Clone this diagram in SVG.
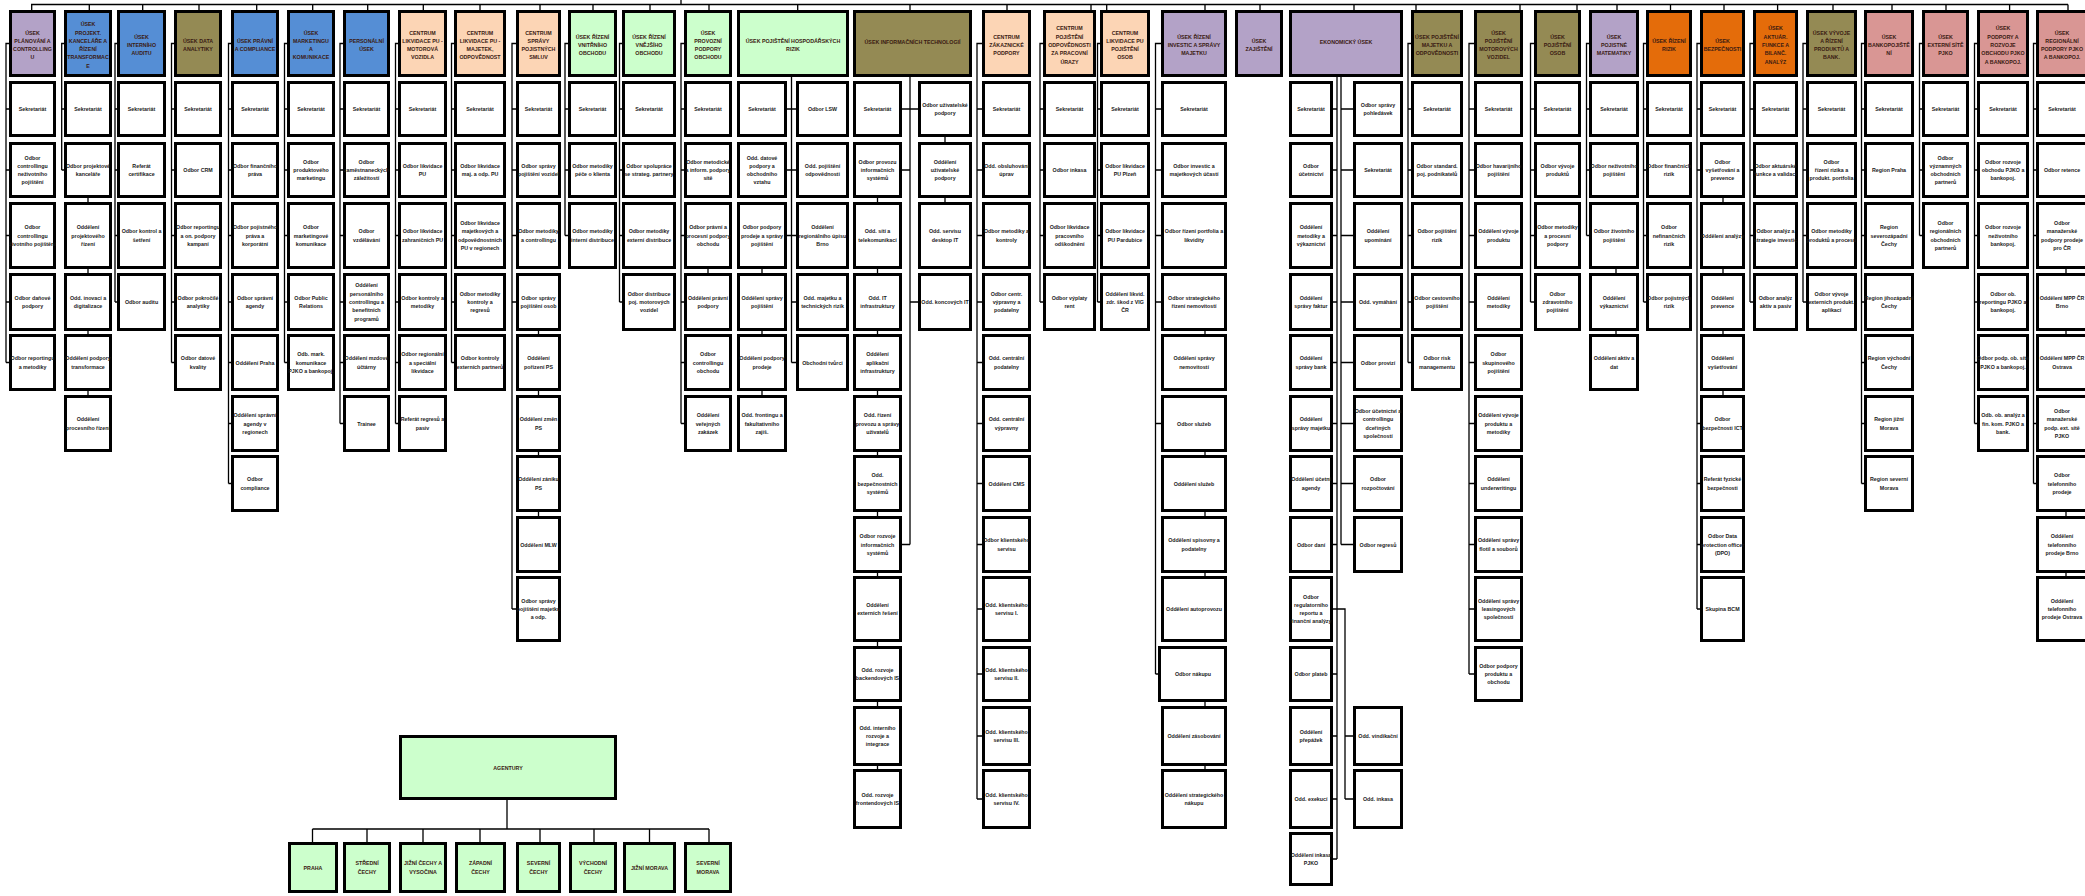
<svg xmlns="http://www.w3.org/2000/svg" width="2085" height="896" viewBox="0 0 2085 896">
<style>
rect{stroke:#000;stroke-width:3}
.w{fill:#fff}.pu{fill:#B3A2C7}.bl{fill:#558ED5}.ol{fill:#948A54}.pe{fill:#FCD5B5}.gr{fill:#CCFFCC}.or{fill:#E46C0A}.pk{fill:#D99694}
text,tspan{font-family:"Liberation Sans",Arial,sans-serif;font-weight:bold;font-size:5.3px;text-anchor:middle;dominant-baseline:central;fill:#1a1a1a}
.hd text,.hd tspan{fill:#3a1a12}
.c path{fill:none;stroke:#000;stroke-width:1.3}
</style>
<g class="c" id="connectors">
<path d="M31,4.5H2068M681,0V4.5"/>
<path d="M31.7,4.5V10M89.3,4.5V10M142.7,4.5V10M199,4.5V10M256.7,4.5V10M312.7,4.5V10M367.7,4.5V10M423.3,4.5V10M480,4.5V10M540,4.5V10M593,4.5V10M650,4.5V10M709,4.5V10M797.7,4.5V10M910,4.5V10M1007,4.5V10M1091,4.5V10M1106.7,4.5V10M1205,4.5V10M1260,4.5V10M1354,4.5V10M1416,4.5V10M1520,4.5V10M1577,4.5V10M1617,4.5V10M1670.5,4.5V10M1724,4.5V10M1777.6,4.5V10M1833,4.5V10M1892,4.5V10M1946,4.5V10M2009.6,4.5V10M2068,4.5V10"/>
<path d="M9,43.5H6V362.5M6,109H9M6,170H9M6,235.5H9M6,302H9M6,362.5H9"/>
<path d="M64,43.5H61.7V170M61.7,109H64M61.7,170H64M88,198V202M88,269V273M88,331V334M88,391V395"/>
<path d="M117,43.5H115V302M115,109H117M115,170H117M115,235.5H117M115,302H117"/>
<path d="M174,43.5H171.5V362.5M171.5,109H174M171.5,170H174M171.5,235.5H174M171.5,302H174M171.5,362.5H174"/>
<path d="M231,43.5H228.5V483.5M228.5,109H231M228.5,170H231M228.5,235.5H231M228.5,302H231M228.5,362.5H231M228.5,423.5H231M228.5,483.5H231"/>
<path d="M287,43.5H284.5V362.5M284.5,109H287M284.5,170H287M284.5,235.5H287M284.5,302H287M284.5,362.5H287"/>
<path d="M343,43.5H340V423.5M340,109H343M340,170H343M340,235.5H343M340,302H343M340,362.5H343M340,423.5H343"/>
<path d="M398,43.5H395.5V423.5M395.5,109H398M395.5,170H398M395.5,235.5H398M395.5,302H398M395.5,362.5H398M395.5,423.5H398"/>
<path d="M454,43.5H451.5V362.5M451.5,109H454M451.5,170H454M451.5,235.5H454M451.5,302H454M451.5,362.5H454"/>
<path d="M516,43.5H512V609M512,109H516M512,170H516M512,235.5H516M512,302H516M512,609H516M538.5,331V334M538.5,391V395M538.5,452V455M538.5,512V516"/>
<path d="M568,43.5H565V235.5M565,109H568M565,170H568M565,235.5H568"/>
<path d="M622,43.5H619.5V302M619.5,109H622M619.5,170H622M619.5,235.5H622M619.5,302H622"/>
<path d="M684,43.5H681V423.5M681,109H684M681,170H684M681,235.5H684M681,302H684M681,362.5H684M681,423.5H684M708,269V273"/>
<path d="M791.5,77V362.5M787,109H796M787,170H796M787,235.5H796M791.5,302H796M791.5,362.5H796M762,269V273M762,331V334M762,391V395"/>
<path d="M910,77V544.5M902,109H918M910,170H902M910,544.5H902M910,302H918M877.5,198V202M877.5,269V273M877.5,331V334M877.5,391V395M877.5,452V455M877.5,512V516M877.5,573V576M877.5,642V646M877.5,702V706M877.5,766V769M945,137V142M945,198V202"/>
<path d="M982,43.5H977V799M977,109H982M977,170H982M977,235.5H982M977,302H982M977,362.5H982M977,423.5H982M977,483.5H982M977,544.5H982M977,609H982M977,674H982M977,736H982M977,799H982"/>
<path d="M1043,43.5H1040V302M1040,109H1043M1040,170H1043M1040,235.5H1043M1040,302H1043"/>
<path d="M1100,43.5H1097.5V302M1097.5,109H1100M1097.5,170H1100M1097.5,235.5H1100M1097.5,302H1100"/>
<path d="M1161,43.5H1155.5V674M1155.5,109H1161M1155.5,170H1161M1155.5,235.5H1161M1155.5,302H1161M1155.5,423.5H1161M1155.5,674H1158M1205,331V334M1205,452V455M1205,512V516M1205,573V576M1205,702V706M1205,766V769"/>
<path d="M1337,77V859M1337,109H1333M1337,170H1333M1337,235.5H1333M1337,302H1333M1337,362.5H1333M1337,423.5H1333M1337,483.5H1333M1337,544.5H1333M1337,609H1333M1337,674H1333M1337,736H1333M1337,799H1333M1337,859H1333"/>
<path d="M1341,77V544.5M1341,109H1353M1341,170H1353M1341,235.5H1353M1341,302H1353M1341,362.5H1353M1341,423.5H1353M1341,483.5H1353M1341,544.5H1353M1337,609H1345V799M1345,736H1353M1345,799H1353"/>
<path d="M1411,43.5H1408V362.5M1408,109H1411M1408,170H1411M1408,235.5H1411M1408,302H1411M1408,362.5H1411"/>
<path d="M1474,43.5H1469V674M1469,109H1474M1469,170H1474M1469,235.5H1474M1469,302H1474M1469,362.5H1474M1469,423.5H1474M1469,483.5H1474M1469,544.5H1474M1469,609H1474M1469,674H1474"/>
<path d="M1534,43.5H1530.5V302M1530.5,109H1534M1530.5,170H1534M1530.5,235.5H1534M1530.5,302H1534"/>
<path d="M1589,43.5H1586.5V235.5M1586.5,109H1589M1586.5,170H1589M1586.5,235.5H1589M1616,269V273M1616,331V334"/>
<path d="M1646,43.5H1643.5V302M1643.5,109H1646M1643.5,170H1646M1643.5,235.5H1646M1643.5,302H1646"/>
<path d="M1700,43.5H1697V609M1697,109H1700M1697,170H1700M1697,423.5H1700M1697,483.5H1700M1697,544.5H1700M1697,609H1700M1723,198V202M1723,269V273M1723,331V334M1723,391V395"/>
<path d="M1753,43.5H1750V302M1750,109H1753M1750,170H1753M1750,235.5H1753M1750,302H1753"/>
<path d="M1806,43.5H1803V302M1803,109H1806M1803,170H1806M1803,235.5H1806M1803,302H1806"/>
<path d="M1864,43.5H1861.5V483.5M1861.5,109H1864M1861.5,170H1864M1861.5,235.5H1864M1861.5,302H1864M1861.5,362.5H1864M1861.5,423.5H1864M1861.5,483.5H1864"/>
<path d="M1922,43.5H1919.5V235.5M1919.5,109H1922M1919.5,170H1922M1919.5,235.5H1922"/>
<path d="M1977,43.5H1974.5V423.5M1974.5,109H1977M1974.5,170H1977M1974.5,235.5H1977M1974.5,302H1977M1974.5,362.5H1977M1974.5,423.5H1977"/>
<path d="M2036,43.5H2033.5V483.5M2033.5,109H2036M2033.5,170H2036M2033.5,235.5H2036M2033.5,423.5H2036M2033.5,483.5H2036M2066,269V273M2066,331V334M2066,512V516M2066,573V576"/>
<path d="M507,800V829M312.5,829H709M312.5,829V842M367,829V842M423,829V842M480,829V842M540,829V842M594,829V842M649.5,829V842M709,829V842"/>
</g>

<g class="hd">
<g id="h1"><rect class="pu" x="10.5" y="11.5" width="44" height="64"/><text x="32.5" y="45"><tspan x="32.5" dy="-12.45">ÚSEK</tspan><tspan x="32.5" dy="8.3">PLÁNOVÁNÍ A</tspan><tspan x="32.5" dy="8.3">CONTROLLING</tspan><tspan x="32.5" dy="8.3">U</tspan></text></g>
<g id="h2"><rect class="bl" x="65.5" y="11.5" width="45" height="64"/><text x="88" y="45"><tspan x="88" dy="-20.75">ÚSEK</tspan><tspan x="88" dy="8.3">PROJEKT.</tspan><tspan x="88" dy="8.3">KANCELÁŘE A</tspan><tspan x="88" dy="8.3">ŘÍZENÍ</tspan><tspan x="88" dy="8.3">TRANSFORMAC</tspan><tspan x="88" dy="8.3">E</tspan></text></g>
<g id="h3"><rect class="bl" x="118.5" y="11.5" width="46" height="64"/><text x="141.5" y="45"><tspan x="141.5" dy="-8.3">ÚSEK</tspan><tspan x="141.5" dy="8.3">INTERNÍHO</tspan><tspan x="141.5" dy="8.3">AUDITU</tspan></text></g>
<g id="h4"><rect class="ol" x="175.5" y="11.5" width="45" height="64"/><text x="198" y="45"><tspan x="198" dy="-4.15">ÚSEK DATA</tspan><tspan x="198" dy="8.3">ANALYTIKY</tspan></text></g>
<g id="h5"><rect class="bl" x="232.5" y="11.5" width="45" height="64"/><text x="255" y="45"><tspan x="255" dy="-4.15">ÚSEK PRÁVNÍ</tspan><tspan x="255" dy="8.3">A COMPLIANCE</tspan></text></g>
<g id="h6"><rect class="bl" x="288.5" y="11.5" width="45" height="64"/><text x="311" y="45"><tspan x="311" dy="-12.45">ÚSEK</tspan><tspan x="311" dy="8.3">MARKETINGU</tspan><tspan x="311" dy="8.3">A</tspan><tspan x="311" dy="8.3">KOMUNIKACE</tspan></text></g>
<g id="h7"><rect class="bl" x="344.5" y="11.5" width="44" height="64"/><text x="366.5" y="45"><tspan x="366.5" dy="-4.15">PERSONÁLNÍ</tspan><tspan x="366.5" dy="8.3">ÚSEK</tspan></text></g>
<g id="h8"><rect class="pe" x="399.5" y="11.5" width="46" height="64"/><text x="422.5" y="45"><tspan x="422.5" dy="-12.45">CENTRUM</tspan><tspan x="422.5" dy="8.3">LIKVIDACE PU -</tspan><tspan x="422.5" dy="8.3">MOTOROVÁ</tspan><tspan x="422.5" dy="8.3">VOZIDLA</tspan></text></g>
<g id="h9"><rect class="pe" x="455.5" y="11.5" width="49" height="64"/><text x="480" y="45"><tspan x="480" dy="-12.45">CENTRUM</tspan><tspan x="480" dy="8.3">LIKVIDACE PU -</tspan><tspan x="480" dy="8.3">MAJETEK,</tspan><tspan x="480" dy="8.3">ODPOVĚDNOST</tspan></text></g>
<g id="h10"><rect class="pe" x="517.5" y="11.5" width="42" height="64"/><text x="538.5" y="45"><tspan x="538.5" dy="-12.45">CENTRUM</tspan><tspan x="538.5" dy="8.3">SPRÁVY</tspan><tspan x="538.5" dy="8.3">POJISTNÝCH</tspan><tspan x="538.5" dy="8.3">SMLUV</tspan></text></g>
<g id="h11"><rect class="gr" x="569.5" y="11.5" width="46" height="64"/><text x="592.5" y="45"><tspan x="592.5" dy="-8.3">ÚSEK ŘÍZENÍ</tspan><tspan x="592.5" dy="8.3">VNITŘNÍHO</tspan><tspan x="592.5" dy="8.3">OBCHODU</tspan></text></g>
<g id="h12"><rect class="gr" x="623.5" y="11.5" width="51" height="64"/><text x="649" y="45"><tspan x="649" dy="-8.3">ÚSEK ŘÍZENÍ</tspan><tspan x="649" dy="8.3">VNĚJŠÍHO</tspan><tspan x="649" dy="8.3">OBCHODU</tspan></text></g>
<g id="h13"><rect class="gr" x="685.5" y="11.5" width="45" height="64"/><text x="708" y="45"><tspan x="708" dy="-12.45">ÚSEK</tspan><tspan x="708" dy="8.3">PROVOZNÍ</tspan><tspan x="708" dy="8.3">PODPORY</tspan><tspan x="708" dy="8.3">OBCHODU</tspan></text></g>
<g id="h14"><rect class="gr" x="738.5" y="11.5" width="109" height="64"/><text x="793" y="45"><tspan x="793" dy="-4.15">ÚSEK POJIŠTĚNÍ HOSPODÁŘSKÝCH</tspan><tspan x="793" dy="8.3">RIZIK</tspan></text></g>
<g id="h15"><rect class="ol" x="854.5" y="11.5" width="116" height="64"/><text x="912.5" y="42">ÚSEK INFORMAČNÍCH TECHNOLOGIÍ</text></g>
<g id="h16"><rect class="pe" x="983.5" y="11.5" width="46" height="64"/><text x="1006.5" y="45"><tspan x="1006.5" dy="-8.3">CENTRUM</tspan><tspan x="1006.5" dy="8.3">ZÁKAZNICKÉ</tspan><tspan x="1006.5" dy="8.3">PODPORY</tspan></text></g>
<g id="h17"><rect class="pe" x="1044.5" y="11.5" width="50" height="64"/><text x="1069.5" y="45"><tspan x="1069.5" dy="-16.6">CENTRUM</tspan><tspan x="1069.5" dy="8.3">POJIŠTĚNÍ</tspan><tspan x="1069.5" dy="8.3">ODPOVĚDNOSTI</tspan><tspan x="1069.5" dy="8.3">ZA PRACOVNÍ</tspan><tspan x="1069.5" dy="8.3">ÚRAZY</tspan></text></g>
<g id="h18"><rect class="pe" x="1101.5" y="11.5" width="47" height="64"/><text x="1125" y="45"><tspan x="1125" dy="-12.45">CENTRUM</tspan><tspan x="1125" dy="8.3">LIKVIDACE PU</tspan><tspan x="1125" dy="8.3">POJIŠTĚNÍ</tspan><tspan x="1125" dy="8.3">OSOB</tspan></text></g>
<g id="h19"><rect class="pu" x="1162.5" y="11.5" width="63" height="64"/><text x="1194" y="45"><tspan x="1194" dy="-8.3">ÚSEK ŘÍZENÍ</tspan><tspan x="1194" dy="8.3">INVESTIC A SPRÁVY</tspan><tspan x="1194" dy="8.3">MAJETKU</tspan></text></g>
<g id="h20"><rect class="pu" x="1236.5" y="11.5" width="45" height="64"/><text x="1259" y="45"><tspan x="1259" dy="-4.15">ÚSEK</tspan><tspan x="1259" dy="8.3">ZAJIŠTĚNÍ</tspan></text></g>
<g id="h21"><rect class="pu" x="1290.5" y="11.5" width="111" height="64"/><text x="1346" y="42">EKONOMICKÝ ÚSEK</text></g>
<g id="h22"><rect class="ol" x="1412.5" y="11.5" width="49" height="64"/><text x="1437" y="45"><tspan x="1437" dy="-8.3">ÚSEK POJIŠTĚNÍ</tspan><tspan x="1437" dy="8.3">MAJETKU A</tspan><tspan x="1437" dy="8.3">ODPOVĚDNOSTI</tspan></text></g>
<g id="h23"><rect class="ol" x="1475.5" y="11.5" width="46" height="64"/><text x="1498.5" y="45"><tspan x="1498.5" dy="-12.45">ÚSEK</tspan><tspan x="1498.5" dy="8.3">POJIŠTĚNÍ</tspan><tspan x="1498.5" dy="8.3">MOTOROVÝCH</tspan><tspan x="1498.5" dy="8.3">VOZIDEL</tspan></text></g>
<g id="h24"><rect class="ol" x="1535.5" y="11.5" width="44" height="64"/><text x="1557.5" y="45"><tspan x="1557.5" dy="-8.3">ÚSEK</tspan><tspan x="1557.5" dy="8.3">POJIŠTĚNÍ</tspan><tspan x="1557.5" dy="8.3">OSOB</tspan></text></g>
<g id="h25"><rect class="pu" x="1590.5" y="11.5" width="47" height="64"/><text x="1614" y="45"><tspan x="1614" dy="-8.3">ÚSEK</tspan><tspan x="1614" dy="8.3">POJISTNÉ</tspan><tspan x="1614" dy="8.3">MATEMATIKY</tspan></text></g>
<g id="h26"><rect class="or" x="1647.5" y="11.5" width="43" height="64"/><text x="1669" y="45"><tspan x="1669" dy="-4.15">ÚSEK ŘÍZENÍ</tspan><tspan x="1669" dy="8.3">RIZIK</tspan></text></g>
<g id="h27"><rect class="or" x="1701.5" y="11.5" width="42" height="64"/><text x="1722.5" y="45"><tspan x="1722.5" dy="-4.15">ÚSEK</tspan><tspan x="1722.5" dy="8.3">BEZPEČNOSTI</tspan></text></g>
<g id="h28"><rect class="or" x="1754.5" y="11.5" width="42" height="64"/><text x="1775.5" y="45"><tspan x="1775.5" dy="-16.6">ÚSEK</tspan><tspan x="1775.5" dy="8.3">AKTUÁR.</tspan><tspan x="1775.5" dy="8.3">FUNKCE A</tspan><tspan x="1775.5" dy="8.3">BILANČ.</tspan><tspan x="1775.5" dy="8.3">ANALÝZ</tspan></text></g>
<g id="h29"><rect class="ol" x="1807.5" y="11.5" width="48" height="64"/><text x="1831.5" y="45"><tspan x="1831.5" dy="-12.45">ÚSEK VÝVOJE</tspan><tspan x="1831.5" dy="8.3">A ŘÍZENÍ</tspan><tspan x="1831.5" dy="8.3">PRODUKTŮ A</tspan><tspan x="1831.5" dy="8.3">BANK.</tspan></text></g>
<g id="h30"><rect class="pk" x="1865.5" y="11.5" width="47" height="64"/><text x="1889" y="45"><tspan x="1889" dy="-8.3">ÚSEK</tspan><tspan x="1889" dy="8.3">BANKOPOJIŠTĚ</tspan><tspan x="1889" dy="8.3">NÍ</tspan></text></g>
<g id="h31"><rect class="pk" x="1923.5" y="11.5" width="44" height="64"/><text x="1945.5" y="45"><tspan x="1945.5" dy="-8.3">ÚSEK</tspan><tspan x="1945.5" dy="8.3">EXTERNÍ SÍTĚ</tspan><tspan x="1945.5" dy="8.3">PJKO</tspan></text></g>
<g id="h32"><rect class="pk" x="1978.5" y="11.5" width="49" height="64"/><text x="2003" y="45"><tspan x="2003" dy="-16.6">ÚSEK</tspan><tspan x="2003" dy="8.3">PODPORY A</tspan><tspan x="2003" dy="8.3">ROZVOJE</tspan><tspan x="2003" dy="8.3">OBCHODU PJKO</tspan><tspan x="2003" dy="8.3">A BANKOPOJ.</tspan></text></g>
<g id="h33"><rect class="pk" x="2037.5" y="11.5" width="60" height="64"/><text x="2062" y="45"><tspan x="2062" dy="-12.45">ÚSEK</tspan><tspan x="2062" dy="8.3">REGIONÁLNÍ</tspan><tspan x="2062" dy="8.3">PODPORY PJKO</tspan><tspan x="2062" dy="8.3">A BANKOPOJ.</tspan></text></g>
<g id="agentury"><rect class="gr" x="400.5" y="736.5" width="215" height="62"/><text x="508" y="767.5">AGENTURY</text></g>
<g id="a-praha"><rect class="gr" x="289.5" y="843.5" width="47" height="48"/><text x="313" y="867.5">PRAHA</text></g>
<g id="a-stredni"><rect class="gr" x="344.5" y="843.5" width="45" height="48"/><text x="367" y="867.5"><tspan x="367" dy="-4.15">STŘEDNÍ</tspan><tspan x="367" dy="8.3">ČECHY</tspan></text></g>
<g id="a-jizni-cechy"><rect class="gr" x="400.5" y="843.5" width="45" height="48"/><text x="423" y="867.5"><tspan x="423" dy="-4.15">JIŽNÍ ČECHY A</tspan><tspan x="423" dy="8.3">VYSOČINA</tspan></text></g>
<g id="a-zapadni"><rect class="gr" x="456.5" y="843.5" width="48" height="48"/><text x="480.5" y="867.5"><tspan x="480.5" dy="-4.15">ZÁPADNÍ</tspan><tspan x="480.5" dy="8.3">ČECHY</tspan></text></g>
<g id="a-severni-cechy"><rect class="gr" x="517.5" y="843.5" width="42" height="48"/><text x="538.5" y="867.5"><tspan x="538.5" dy="-4.15">SEVERNÍ</tspan><tspan x="538.5" dy="8.3">ČECHY</tspan></text></g>
<g id="a-vychodni"><rect class="gr" x="570.5" y="843.5" width="45" height="48"/><text x="593" y="867.5"><tspan x="593" dy="-4.15">VÝCHODNÍ</tspan><tspan x="593" dy="8.3">ČECHY</tspan></text></g>
<g id="a-jizni-morava"><rect class="gr" x="624.5" y="843.5" width="50" height="48"/><text x="649.5" y="867.5">JIŽNÍ MORAVA</text></g>
<g id="a-severni-morava"><rect class="gr" x="685.5" y="843.5" width="45" height="48"/><text x="708" y="867.5"><tspan x="708" dy="-4.15">SEVERNÍ</tspan><tspan x="708" dy="8.3">MORAVA</tspan></text></g>
</g>

<g id="c1-1"><rect class="w" x="10.5" y="82.5" width="44" height="53"/><text x="32.5" y="109">Sekretariát</text></g>
<g id="c1-2"><rect class="w" x="10.5" y="143.5" width="44" height="53"/><text x="32.5" y="170"><tspan x="32.5" dy="-12.45">Odbor</tspan><tspan x="32.5" dy="8.3">controllingu</tspan><tspan x="32.5" dy="8.3">neživotního</tspan><tspan x="32.5" dy="8.3">pojištění</tspan></text></g>
<g id="c1-3"><rect class="w" x="10.5" y="203.5" width="44" height="64"/><text x="32.5" y="235.5"><tspan x="32.5" dy="-8.3">Odbor</tspan><tspan x="32.5" dy="8.3">controllingu</tspan><tspan x="32.5" dy="8.3">životního pojištění</tspan></text></g>
<g id="c1-4"><rect class="w" x="10.5" y="274.5" width="44" height="55"/><text x="32.5" y="302"><tspan x="32.5" dy="-4.15">Odbor daňové</tspan><tspan x="32.5" dy="8.3">podpory</tspan></text></g>
<g id="c1-5"><rect class="w" x="10.5" y="335.5" width="44" height="54"/><text x="32.5" y="362.5"><tspan x="32.5" dy="-4.15">Odbor reportingu</tspan><tspan x="32.5" dy="8.3">a metodiky</tspan></text></g>

<g id="c2-1"><rect class="w" x="65.5" y="82.5" width="45" height="53"/><text x="88" y="109">Sekretariát</text></g>
<g id="c2-2"><rect class="w" x="65.5" y="143.5" width="45" height="53"/><text x="88" y="170"><tspan x="88" dy="-4.15">Odbor projektové</tspan><tspan x="88" dy="8.3">kanceláře</tspan></text></g>
<g id="c2-3"><rect class="w" x="65.5" y="203.5" width="45" height="64"/><text x="88" y="235.5"><tspan x="88" dy="-8.3">Oddělení</tspan><tspan x="88" dy="8.3">projektového</tspan><tspan x="88" dy="8.3">řízení</tspan></text></g>
<g id="c2-4"><rect class="w" x="65.5" y="274.5" width="45" height="55"/><text x="88" y="302"><tspan x="88" dy="-4.15">Odd. inovací a</tspan><tspan x="88" dy="8.3">digitalizace</tspan></text></g>
<g id="c2-5"><rect class="w" x="65.5" y="335.5" width="45" height="54"/><text x="88" y="362.5"><tspan x="88" dy="-4.15">Oddělení podpory</tspan><tspan x="88" dy="8.3">transformace</tspan></text></g>
<g id="c2-6"><rect class="w" x="65.5" y="396.5" width="45" height="54"/><text x="88" y="423.5"><tspan x="88" dy="-4.15">Oddělení</tspan><tspan x="88" dy="8.3">procesního řízení</tspan></text></g>

<g id="c3-1"><rect class="w" x="118.5" y="82.5" width="46" height="53"/><text x="141.5" y="109">Sekretariát</text></g>
<g id="c3-2"><rect class="w" x="118.5" y="143.5" width="46" height="53"/><text x="141.5" y="170"><tspan x="141.5" dy="-4.15">Referát</tspan><tspan x="141.5" dy="8.3">certifikace</tspan></text></g>
<g id="c3-3"><rect class="w" x="118.5" y="203.5" width="46" height="64"/><text x="141.5" y="235.5"><tspan x="141.5" dy="-4.15">Odbor kontrol a</tspan><tspan x="141.5" dy="8.3">šetření</tspan></text></g>
<g id="c3-4"><rect class="w" x="118.5" y="274.5" width="46" height="55"/><text x="141.5" y="302">Odbor auditu</text></g>

<g id="c4-1"><rect class="w" x="175.5" y="82.5" width="45" height="53"/><text x="198" y="109">Sekretariát</text></g>
<g id="c4-2"><rect class="w" x="175.5" y="143.5" width="45" height="53"/><text x="198" y="170">Odbor CRM</text></g>
<g id="c4-3"><rect class="w" x="175.5" y="203.5" width="45" height="64"/><text x="198" y="235.5"><tspan x="198" dy="-8.3">Odbor reportingu</tspan><tspan x="198" dy="8.3">a on. podpory</tspan><tspan x="198" dy="8.3">kampaní</tspan></text></g>
<g id="c4-4"><rect class="w" x="175.5" y="274.5" width="45" height="55"/><text x="198" y="302"><tspan x="198" dy="-4.15">Odbor pokročilé</tspan><tspan x="198" dy="8.3">analytiky</tspan></text></g>
<g id="c4-5"><rect class="w" x="175.5" y="335.5" width="45" height="54"/><text x="198" y="362.5"><tspan x="198" dy="-4.15">Odbor datové</tspan><tspan x="198" dy="8.3">kvality</tspan></text></g>

<g id="c5-1"><rect class="w" x="232.5" y="82.5" width="45" height="53"/><text x="255" y="109">Sekretariát</text></g>
<g id="c5-2"><rect class="w" x="232.5" y="143.5" width="45" height="53"/><text x="255" y="170"><tspan x="255" dy="-4.15">Odbor finančního</tspan><tspan x="255" dy="8.3">práva</tspan></text></g>
<g id="c5-3"><rect class="w" x="232.5" y="203.5" width="45" height="64"/><text x="255" y="235.5"><tspan x="255" dy="-8.3">Odbor pojistného</tspan><tspan x="255" dy="8.3">práva a</tspan><tspan x="255" dy="8.3">korporátní</tspan></text></g>
<g id="c5-4"><rect class="w" x="232.5" y="274.5" width="45" height="55"/><text x="255" y="302"><tspan x="255" dy="-4.15">Odbor správní</tspan><tspan x="255" dy="8.3">agendy</tspan></text></g>
<g id="c5-5"><rect class="w" x="232.5" y="335.5" width="45" height="54"/><text x="255" y="362.5">Oddělení Praha</text></g>
<g id="c5-6"><rect class="w" x="232.5" y="396.5" width="45" height="54"/><text x="255" y="423.5"><tspan x="255" dy="-8.3">Oddělení správní</tspan><tspan x="255" dy="8.3">agendy v</tspan><tspan x="255" dy="8.3">regionech</tspan></text></g>
<g id="c5-7"><rect class="w" x="232.5" y="456.5" width="45" height="54"/><text x="255" y="483.5"><tspan x="255" dy="-4.15">Odbor</tspan><tspan x="255" dy="8.3">compliance</tspan></text></g>

<g id="c6-1"><rect class="w" x="288.5" y="82.5" width="45" height="53"/><text x="311" y="109">Sekretariát</text></g>
<g id="c6-2"><rect class="w" x="288.5" y="143.5" width="45" height="53"/><text x="311" y="170"><tspan x="311" dy="-8.3">Odbor</tspan><tspan x="311" dy="8.3">produktového</tspan><tspan x="311" dy="8.3">marketingu</tspan></text></g>
<g id="c6-3"><rect class="w" x="288.5" y="203.5" width="45" height="64"/><text x="311" y="235.5"><tspan x="311" dy="-8.3">Odbor</tspan><tspan x="311" dy="8.3">marketingové</tspan><tspan x="311" dy="8.3">komunikace</tspan></text></g>
<g id="c6-4"><rect class="w" x="288.5" y="274.5" width="45" height="55"/><text x="311" y="302"><tspan x="311" dy="-4.15">Odbor Public</tspan><tspan x="311" dy="8.3">Relations</tspan></text></g>
<g id="c6-5"><rect class="w" x="288.5" y="335.5" width="45" height="54"/><text x="311" y="362.5"><tspan x="311" dy="-8.3">Odb. mark.</tspan><tspan x="311" dy="8.3">komunikace</tspan><tspan x="311" dy="8.3">PJKO a bankopoj.</tspan></text></g>

<g id="c7-1"><rect class="w" x="344.5" y="82.5" width="44" height="53"/><text x="366.5" y="109">Sekretariát</text></g>
<g id="c7-2"><rect class="w" x="344.5" y="143.5" width="44" height="53"/><text x="366.5" y="170"><tspan x="366.5" dy="-8.3">Odbor</tspan><tspan x="366.5" dy="8.3">zaměstnaneckých</tspan><tspan x="366.5" dy="8.3">záležitostí</tspan></text></g>
<g id="c7-3"><rect class="w" x="344.5" y="203.5" width="44" height="64"/><text x="366.5" y="235.5"><tspan x="366.5" dy="-4.15">Odbor</tspan><tspan x="366.5" dy="8.3">vzdělávání</tspan></text></g>
<g id="c7-4"><rect class="w" x="344.5" y="274.5" width="44" height="55"/><text x="366.5" y="302"><tspan x="366.5" dy="-16.6">Oddělení</tspan><tspan x="366.5" dy="8.3">personálního</tspan><tspan x="366.5" dy="8.3">controllingu a</tspan><tspan x="366.5" dy="8.3">benefitních</tspan><tspan x="366.5" dy="8.3">programů</tspan></text></g>
<g id="c7-5"><rect class="w" x="344.5" y="335.5" width="44" height="54"/><text x="366.5" y="362.5"><tspan x="366.5" dy="-4.15">Oddělení mzdové</tspan><tspan x="366.5" dy="8.3">účtárny</tspan></text></g>
<g id="c7-6"><rect class="w" x="344.5" y="396.5" width="44" height="54"/><text x="366.5" y="423.5">Trainee</text></g>

<g id="c8-1"><rect class="w" x="399.5" y="82.5" width="46" height="53"/><text x="422.5" y="109">Sekretariát</text></g>
<g id="c8-2"><rect class="w" x="399.5" y="143.5" width="46" height="53"/><text x="422.5" y="170"><tspan x="422.5" dy="-4.15">Odbor likvidace</tspan><tspan x="422.5" dy="8.3">PU</tspan></text></g>
<g id="c8-3"><rect class="w" x="399.5" y="203.5" width="46" height="64"/><text x="422.5" y="235.5"><tspan x="422.5" dy="-4.15">Odbor likvidace</tspan><tspan x="422.5" dy="8.3">zahraničních PU</tspan></text></g>
<g id="c8-4"><rect class="w" x="399.5" y="274.5" width="46" height="55"/><text x="422.5" y="302"><tspan x="422.5" dy="-4.15">Odbor kontroly a</tspan><tspan x="422.5" dy="8.3">metodiky</tspan></text></g>
<g id="c8-5"><rect class="w" x="399.5" y="335.5" width="46" height="54"/><text x="422.5" y="362.5"><tspan x="422.5" dy="-8.3">Odbor regionální</tspan><tspan x="422.5" dy="8.3">a speciální</tspan><tspan x="422.5" dy="8.3">likvidace</tspan></text></g>
<g id="c8-6"><rect class="w" x="399.5" y="396.5" width="46" height="54"/><text x="422.5" y="423.5"><tspan x="422.5" dy="-4.15">Referát regresů a</tspan><tspan x="422.5" dy="8.3">pasiv</tspan></text></g>

<g id="c9-1"><rect class="w" x="455.5" y="82.5" width="49" height="53"/><text x="480" y="109">Sekretariát</text></g>
<g id="c9-2"><rect class="w" x="455.5" y="143.5" width="49" height="53"/><text x="480" y="170"><tspan x="480" dy="-4.15">Odbor likvidace</tspan><tspan x="480" dy="8.3">maj. a odp. PU</tspan></text></g>
<g id="c9-3"><rect class="w" x="455.5" y="203.5" width="49" height="64"/><text x="480" y="235.5"><tspan x="480" dy="-12.45">Odbor likvidace</tspan><tspan x="480" dy="8.3">majetkových a</tspan><tspan x="480" dy="8.3">odpovědnostních</tspan><tspan x="480" dy="8.3">PU v regionech</tspan></text></g>
<g id="c9-4"><rect class="w" x="455.5" y="274.5" width="49" height="55"/><text x="480" y="302"><tspan x="480" dy="-8.3">Odbor metodiky</tspan><tspan x="480" dy="8.3">kontroly a</tspan><tspan x="480" dy="8.3">regresů</tspan></text></g>
<g id="c9-5"><rect class="w" x="455.5" y="335.5" width="49" height="54"/><text x="480" y="362.5"><tspan x="480" dy="-4.15">Odbor kontroly</tspan><tspan x="480" dy="8.3">externích partnerů</tspan></text></g>

<g id="c10-1"><rect class="w" x="517.5" y="82.5" width="42" height="53"/><text x="538.5" y="109">Sekretariát</text></g>
<g id="c10-2"><rect class="w" x="517.5" y="143.5" width="42" height="53"/><text x="538.5" y="170"><tspan x="538.5" dy="-4.15">Odbor správy</tspan><tspan x="538.5" dy="8.3">pojištění vozidel</tspan></text></g>
<g id="c10-3"><rect class="w" x="517.5" y="203.5" width="42" height="64"/><text x="538.5" y="235.5"><tspan x="538.5" dy="-4.15">Odbor metodiky</tspan><tspan x="538.5" dy="8.3">a controllingu</tspan></text></g>
<g id="c10-4"><rect class="w" x="517.5" y="274.5" width="42" height="55"/><text x="538.5" y="302"><tspan x="538.5" dy="-4.15">Odbor správy</tspan><tspan x="538.5" dy="8.3">pojištění osob</tspan></text></g>
<g id="c10-5"><rect class="w" x="517.5" y="335.5" width="42" height="54"/><text x="538.5" y="362.5"><tspan x="538.5" dy="-4.15">Oddělení</tspan><tspan x="538.5" dy="8.3">pořízení PS</tspan></text></g>
<g id="c10-6"><rect class="w" x="517.5" y="396.5" width="42" height="54"/><text x="538.5" y="423.5"><tspan x="538.5" dy="-4.15">Oddělení změn</tspan><tspan x="538.5" dy="8.3">PS</tspan></text></g>
<g id="c10-7"><rect class="w" x="517.5" y="456.5" width="42" height="54"/><text x="538.5" y="483.5"><tspan x="538.5" dy="-4.15">Oddělení zániku</tspan><tspan x="538.5" dy="8.3">PS</tspan></text></g>
<g id="c10-8"><rect class="w" x="517.5" y="517.5" width="42" height="54"/><text x="538.5" y="544.5">Oddělení MLW</text></g>
<g id="c10-9"><rect class="w" x="517.5" y="577.5" width="42" height="63"/><text x="538.5" y="609"><tspan x="538.5" dy="-8.3">Odbor správy</tspan><tspan x="538.5" dy="8.3">pojištění majetku</tspan><tspan x="538.5" dy="8.3">a odp.</tspan></text></g>

<g id="c11-1"><rect class="w" x="569.5" y="82.5" width="46" height="53"/><text x="592.5" y="109">Sekretariát</text></g>
<g id="c11-2"><rect class="w" x="569.5" y="143.5" width="46" height="53"/><text x="592.5" y="170"><tspan x="592.5" dy="-4.15">Odbor metodiky</tspan><tspan x="592.5" dy="8.3">péče o klienta</tspan></text></g>
<g id="c11-3"><rect class="w" x="569.5" y="203.5" width="46" height="64"/><text x="592.5" y="235.5"><tspan x="592.5" dy="-4.15">Odbor metodiky</tspan><tspan x="592.5" dy="8.3">interní distribuce</tspan></text></g>

<g id="c12-1"><rect class="w" x="623.5" y="82.5" width="51" height="53"/><text x="649" y="109">Sekretariát</text></g>
<g id="c12-2"><rect class="w" x="623.5" y="143.5" width="51" height="53"/><text x="649" y="170"><tspan x="649" dy="-4.15">Odbor spolupráce</tspan><tspan x="649" dy="8.3">se strateg. partnery</tspan></text></g>
<g id="c12-3"><rect class="w" x="623.5" y="203.5" width="51" height="64"/><text x="649" y="235.5"><tspan x="649" dy="-4.15">Odbor metodiky</tspan><tspan x="649" dy="8.3">externí distribuce</tspan></text></g>
<g id="c12-4"><rect class="w" x="623.5" y="274.5" width="51" height="55"/><text x="649" y="302"><tspan x="649" dy="-8.3">Odbor distribuce</tspan><tspan x="649" dy="8.3">poj. motorových</tspan><tspan x="649" dy="8.3">vozidel</tspan></text></g>

<g id="c13-1"><rect class="w" x="685.5" y="82.5" width="45" height="53"/><text x="708" y="109">Sekretariát</text></g>
<g id="c13-2"><rect class="w" x="685.5" y="143.5" width="45" height="53"/><text x="708" y="170"><tspan x="708" dy="-8.3">Odbor metodické</tspan><tspan x="708" dy="8.3">a inform. podpory</tspan><tspan x="708" dy="8.3">sítě</tspan></text></g>
<g id="c13-3"><rect class="w" x="685.5" y="203.5" width="45" height="64"/><text x="708" y="235.5"><tspan x="708" dy="-8.3">Odbor právní a</tspan><tspan x="708" dy="8.3">procesní podpory</tspan><tspan x="708" dy="8.3">obchodu</tspan></text></g>
<g id="c13-4"><rect class="w" x="685.5" y="274.5" width="45" height="55"/><text x="708" y="302"><tspan x="708" dy="-4.15">Oddělení právní</tspan><tspan x="708" dy="8.3">podpory</tspan></text></g>
<g id="c13-5"><rect class="w" x="685.5" y="335.5" width="45" height="54"/><text x="708" y="362.5"><tspan x="708" dy="-8.3">Odbor</tspan><tspan x="708" dy="8.3">controllingu</tspan><tspan x="708" dy="8.3">obchodu</tspan></text></g>
<g id="c13-6"><rect class="w" x="685.5" y="396.5" width="45" height="54"/><text x="708" y="423.5"><tspan x="708" dy="-8.3">Oddělení</tspan><tspan x="708" dy="8.3">veřejných</tspan><tspan x="708" dy="8.3">zakázek</tspan></text></g>

<g id="c14a-1"><rect class="w" x="738.5" y="82.5" width="47" height="53"/><text x="762" y="109">Sekretariát</text></g>
<g id="c14a-2"><rect class="w" x="738.5" y="143.5" width="47" height="53"/><text x="762" y="170"><tspan x="762" dy="-12.45">Odd. datové</tspan><tspan x="762" dy="8.3">podpory a</tspan><tspan x="762" dy="8.3">obchodního</tspan><tspan x="762" dy="8.3">vztahu</tspan></text></g>
<g id="c14a-3"><rect class="w" x="738.5" y="203.5" width="47" height="64"/><text x="762" y="235.5"><tspan x="762" dy="-8.3">Odbor podpory</tspan><tspan x="762" dy="8.3">prodeje a správy</tspan><tspan x="762" dy="8.3">pojištění</tspan></text></g>
<g id="c14a-4"><rect class="w" x="738.5" y="274.5" width="47" height="55"/><text x="762" y="302"><tspan x="762" dy="-4.15">Oddělení správy</tspan><tspan x="762" dy="8.3">pojištění</tspan></text></g>
<g id="c14a-5"><rect class="w" x="738.5" y="335.5" width="47" height="54"/><text x="762" y="362.5"><tspan x="762" dy="-4.15">Oddělení podpory</tspan><tspan x="762" dy="8.3">prodeje</tspan></text></g>
<g id="c14a-6"><rect class="w" x="738.5" y="396.5" width="47" height="54"/><text x="762" y="423.5"><tspan x="762" dy="-8.3">Odd. frontingu a</tspan><tspan x="762" dy="8.3">fakultativního</tspan><tspan x="762" dy="8.3">zajiš.</tspan></text></g>
<g id="c14b-1"><rect class="w" x="797.5" y="82.5" width="50" height="53"/><text x="822.5" y="109">Odbor LSW</text></g>
<g id="c14b-2"><rect class="w" x="797.5" y="143.5" width="50" height="53"/><text x="822.5" y="170"><tspan x="822.5" dy="-4.15">Odd. pojištění</tspan><tspan x="822.5" dy="8.3">odpovědnosti</tspan></text></g>
<g id="c14b-3"><rect class="w" x="797.5" y="203.5" width="50" height="64"/><text x="822.5" y="235.5"><tspan x="822.5" dy="-8.3">Oddělení</tspan><tspan x="822.5" dy="8.3">regionálního úpisu</tspan><tspan x="822.5" dy="8.3">Brno</tspan></text></g>
<g id="c14b-4"><rect class="w" x="797.5" y="274.5" width="50" height="55"/><text x="822.5" y="302"><tspan x="822.5" dy="-4.15">Odd. majetku a</tspan><tspan x="822.5" dy="8.3">technických rizik</tspan></text></g>
<g id="c14b-5"><rect class="w" x="797.5" y="335.5" width="50" height="54"/><text x="822.5" y="362.5">Obchodní tvůrci</text></g>

<g id="c15a-1"><rect class="w" x="854.5" y="82.5" width="46" height="53"/><text x="877.5" y="109">Sekretariát</text></g>
<g id="c15a-2"><rect class="w" x="854.5" y="143.5" width="46" height="53"/><text x="877.5" y="170"><tspan x="877.5" dy="-8.3">Odbor provozu</tspan><tspan x="877.5" dy="8.3">informačních</tspan><tspan x="877.5" dy="8.3">systémů</tspan></text></g>
<g id="c15a-3"><rect class="w" x="854.5" y="203.5" width="46" height="64"/><text x="877.5" y="235.5"><tspan x="877.5" dy="-4.15">Odd. sítí a</tspan><tspan x="877.5" dy="8.3">telekomunikací</tspan></text></g>
<g id="c15a-4"><rect class="w" x="854.5" y="274.5" width="46" height="55"/><text x="877.5" y="302"><tspan x="877.5" dy="-4.15">Odd. IT</tspan><tspan x="877.5" dy="8.3">infrastruktury</tspan></text></g>
<g id="c15a-5"><rect class="w" x="854.5" y="335.5" width="46" height="54"/><text x="877.5" y="362.5"><tspan x="877.5" dy="-8.3">Oddělení</tspan><tspan x="877.5" dy="8.3">aplikační</tspan><tspan x="877.5" dy="8.3">infrastruktury</tspan></text></g>
<g id="c15a-6"><rect class="w" x="854.5" y="396.5" width="46" height="54"/><text x="877.5" y="423.5"><tspan x="877.5" dy="-8.3">Odd. řízení</tspan><tspan x="877.5" dy="8.3">provozu a správy</tspan><tspan x="877.5" dy="8.3">uživatelů</tspan></text></g>
<g id="c15a-7"><rect class="w" x="854.5" y="456.5" width="46" height="54"/><text x="877.5" y="483.5"><tspan x="877.5" dy="-8.3">Odd.</tspan><tspan x="877.5" dy="8.3">bezpečnostních</tspan><tspan x="877.5" dy="8.3">systémů</tspan></text></g>
<g id="c15a-8"><rect class="w" x="854.5" y="517.5" width="46" height="54"/><text x="877.5" y="544.5"><tspan x="877.5" dy="-8.3">Odbor rozvoje</tspan><tspan x="877.5" dy="8.3">informačních</tspan><tspan x="877.5" dy="8.3">systémů</tspan></text></g>
<g id="c15a-9"><rect class="w" x="854.5" y="577.5" width="46" height="63"/><text x="877.5" y="609"><tspan x="877.5" dy="-4.15">Oddělení</tspan><tspan x="877.5" dy="8.3">externích řešení</tspan></text></g>
<g id="c15a-10"><rect class="w" x="854.5" y="647.5" width="46" height="53"/><text x="877.5" y="674"><tspan x="877.5" dy="-4.15">Odd. rozvoje</tspan><tspan x="877.5" dy="8.3">backendových IS</tspan></text></g>
<g id="c15a-11"><rect class="w" x="854.5" y="707.5" width="46" height="57"/><text x="877.5" y="736"><tspan x="877.5" dy="-8.3">Odd. interního</tspan><tspan x="877.5" dy="8.3">rozvoje a</tspan><tspan x="877.5" dy="8.3">integrace</tspan></text></g>
<g id="c15a-12"><rect class="w" x="854.5" y="770.5" width="46" height="57"/><text x="877.5" y="799"><tspan x="877.5" dy="-4.15">Odd. rozvoje</tspan><tspan x="877.5" dy="8.3">frontendových IS</tspan></text></g>
<g id="c15b-1"><rect class="w" x="919.5" y="82.5" width="51" height="53"/><text x="945" y="109"><tspan x="945" dy="-4.15">Odbor uživatelské</tspan><tspan x="945" dy="8.3">podpory</tspan></text></g>
<g id="c15b-2"><rect class="w" x="919.5" y="143.5" width="51" height="53"/><text x="945" y="170"><tspan x="945" dy="-8.3">Oddělení</tspan><tspan x="945" dy="8.3">uživatelské</tspan><tspan x="945" dy="8.3">podpory</tspan></text></g>
<g id="c15b-3"><rect class="w" x="919.5" y="203.5" width="51" height="64"/><text x="945" y="235.5"><tspan x="945" dy="-4.15">Odd. servisu</tspan><tspan x="945" dy="8.3">desktop IT</tspan></text></g>
<g id="c15b-4"><rect class="w" x="919.5" y="274.5" width="51" height="55"/><text x="945" y="302">Odd. koncových IT</text></g>

<g id="c16-1"><rect class="w" x="983.5" y="82.5" width="46" height="53"/><text x="1006.5" y="109">Sekretariát</text></g>
<g id="c16-2"><rect class="w" x="983.5" y="143.5" width="46" height="53"/><text x="1006.5" y="170"><tspan x="1006.5" dy="-4.15">Odd. obsluhování</tspan><tspan x="1006.5" dy="8.3">úprav</tspan></text></g>
<g id="c16-3"><rect class="w" x="983.5" y="203.5" width="46" height="64"/><text x="1006.5" y="235.5"><tspan x="1006.5" dy="-4.15">Odbor metodiky a</tspan><tspan x="1006.5" dy="8.3">kontroly</tspan></text></g>
<g id="c16-4"><rect class="w" x="983.5" y="274.5" width="46" height="55"/><text x="1006.5" y="302"><tspan x="1006.5" dy="-8.3">Odbor centr.</tspan><tspan x="1006.5" dy="8.3">výpravny a</tspan><tspan x="1006.5" dy="8.3">podatelny</tspan></text></g>
<g id="c16-5"><rect class="w" x="983.5" y="335.5" width="46" height="54"/><text x="1006.5" y="362.5"><tspan x="1006.5" dy="-4.15">Odd. centrální</tspan><tspan x="1006.5" dy="8.3">podatelny</tspan></text></g>
<g id="c16-6"><rect class="w" x="983.5" y="396.5" width="46" height="54"/><text x="1006.5" y="423.5"><tspan x="1006.5" dy="-4.15">Odd. centrální</tspan><tspan x="1006.5" dy="8.3">výpravny</tspan></text></g>
<g id="c16-7"><rect class="w" x="983.5" y="456.5" width="46" height="54"/><text x="1006.5" y="483.5">Oddělení CMS</text></g>
<g id="c16-8"><rect class="w" x="983.5" y="517.5" width="46" height="54"/><text x="1006.5" y="544.5"><tspan x="1006.5" dy="-4.15">Odbor klientského</tspan><tspan x="1006.5" dy="8.3">servisu</tspan></text></g>
<g id="c16-9"><rect class="w" x="983.5" y="577.5" width="46" height="63"/><text x="1006.5" y="609"><tspan x="1006.5" dy="-4.15">Odd. klientského</tspan><tspan x="1006.5" dy="8.3">servisu I.</tspan></text></g>
<g id="c16-10"><rect class="w" x="983.5" y="647.5" width="46" height="53"/><text x="1006.5" y="674"><tspan x="1006.5" dy="-4.15">Odd. klientského</tspan><tspan x="1006.5" dy="8.3">servisu II.</tspan></text></g>
<g id="c16-11"><rect class="w" x="983.5" y="707.5" width="46" height="57"/><text x="1006.5" y="736"><tspan x="1006.5" dy="-4.15">Odd. klientského</tspan><tspan x="1006.5" dy="8.3">servisu III.</tspan></text></g>
<g id="c16-12"><rect class="w" x="983.5" y="770.5" width="46" height="57"/><text x="1006.5" y="799"><tspan x="1006.5" dy="-4.15">Odd. klientského</tspan><tspan x="1006.5" dy="8.3">servisu IV.</tspan></text></g>

<g id="c17-1"><rect class="w" x="1044.5" y="82.5" width="50" height="53"/><text x="1069.5" y="109">Sekretariát</text></g>
<g id="c17-2"><rect class="w" x="1044.5" y="143.5" width="50" height="53"/><text x="1069.5" y="170">Odbor inkasa</text></g>
<g id="c17-3"><rect class="w" x="1044.5" y="203.5" width="50" height="64"/><text x="1069.5" y="235.5"><tspan x="1069.5" dy="-8.3">Odbor likvidace</tspan><tspan x="1069.5" dy="8.3">pracovního</tspan><tspan x="1069.5" dy="8.3">odškodnění</tspan></text></g>
<g id="c17-4"><rect class="w" x="1044.5" y="274.5" width="50" height="55"/><text x="1069.5" y="302"><tspan x="1069.5" dy="-4.15">Odbor výplaty</tspan><tspan x="1069.5" dy="8.3">rent</tspan></text></g>

<g id="c18-1"><rect class="w" x="1101.5" y="82.5" width="47" height="53"/><text x="1125" y="109">Sekretariát</text></g>
<g id="c18-2"><rect class="w" x="1101.5" y="143.5" width="47" height="53"/><text x="1125" y="170"><tspan x="1125" dy="-4.15">Odbor likvidace</tspan><tspan x="1125" dy="8.3">PU Plzeň</tspan></text></g>
<g id="c18-3"><rect class="w" x="1101.5" y="203.5" width="47" height="64"/><text x="1125" y="235.5"><tspan x="1125" dy="-4.15">Odbor likvidace</tspan><tspan x="1125" dy="8.3">PU Pardubice</tspan></text></g>
<g id="c18-4"><rect class="w" x="1101.5" y="274.5" width="47" height="55"/><text x="1125" y="302"><tspan x="1125" dy="-8.3">Oddělení likvid.</tspan><tspan x="1125" dy="8.3">zdr. škod z VIG</tspan><tspan x="1125" dy="8.3">ČR</tspan></text></g>

<g id="c19-1"><rect class="w" x="1162.5" y="82.5" width="63" height="53"/><text x="1194" y="109">Sekretariát</text></g>
<g id="c19-2"><rect class="w" x="1162.5" y="143.5" width="63" height="53"/><text x="1194" y="170"><tspan x="1194" dy="-4.15">Odbor investic a</tspan><tspan x="1194" dy="8.3">majetkových účastí</tspan></text></g>
<g id="c19-3"><rect class="w" x="1162.5" y="203.5" width="63" height="64"/><text x="1194" y="235.5"><tspan x="1194" dy="-4.15">Odbor řízení portfolia a</tspan><tspan x="1194" dy="8.3">likvidity</tspan></text></g>
<g id="c19-4"><rect class="w" x="1162.5" y="274.5" width="63" height="55"/><text x="1194" y="302"><tspan x="1194" dy="-4.15">Odbor strategického</tspan><tspan x="1194" dy="8.3">řízení nemovitostí</tspan></text></g>
<g id="c19-5"><rect class="w" x="1162.5" y="335.5" width="63" height="54"/><text x="1194" y="362.5"><tspan x="1194" dy="-4.15">Oddělení správy</tspan><tspan x="1194" dy="8.3">nemovitostí</tspan></text></g>
<g id="c19-6"><rect class="w" x="1162.5" y="396.5" width="63" height="54"/><text x="1194" y="423.5">Odbor služeb</text></g>
<g id="c19-7"><rect class="w" x="1162.5" y="456.5" width="63" height="54"/><text x="1194" y="483.5">Oddělení služeb</text></g>
<g id="c19-8"><rect class="w" x="1162.5" y="517.5" width="63" height="54"/><text x="1194" y="544.5"><tspan x="1194" dy="-4.15">Oddělení spisovny a</tspan><tspan x="1194" dy="8.3">podatelny</tspan></text></g>
<g id="c19-9"><rect class="w" x="1162.5" y="577.5" width="63" height="63"/><text x="1194" y="609">Oddělení autoprovozu</text></g>
<g id="c19-10"><rect class="w" x="1159.5" y="647.5" width="66" height="53"/><text x="1193" y="674">Odbor nákupu</text></g>
<g id="c19-11"><rect class="w" x="1162.5" y="707.5" width="63" height="57"/><text x="1194" y="736">Oddělení zásobování</text></g>
<g id="c19-12"><rect class="w" x="1162.5" y="770.5" width="63" height="57"/><text x="1194" y="799"><tspan x="1194" dy="-4.15">Oddělení strategického</tspan><tspan x="1194" dy="8.3">nákupu</tspan></text></g>

<g id="c21a-1"><rect class="w" x="1290.5" y="82.5" width="41" height="53"/><text x="1311" y="109">Sekretariát</text></g>
<g id="c21a-2"><rect class="w" x="1290.5" y="143.5" width="41" height="53"/><text x="1311" y="170"><tspan x="1311" dy="-4.15">Odbor</tspan><tspan x="1311" dy="8.3">účetnictví</tspan></text></g>
<g id="c21a-3"><rect class="w" x="1290.5" y="203.5" width="41" height="64"/><text x="1311" y="235.5"><tspan x="1311" dy="-8.3">Oddělení</tspan><tspan x="1311" dy="8.3">metodiky a</tspan><tspan x="1311" dy="8.3">výkaznictví</tspan></text></g>
<g id="c21a-4"><rect class="w" x="1290.5" y="274.5" width="41" height="55"/><text x="1311" y="302"><tspan x="1311" dy="-4.15">Oddělení</tspan><tspan x="1311" dy="8.3">správy faktur</tspan></text></g>
<g id="c21a-5"><rect class="w" x="1290.5" y="335.5" width="41" height="54"/><text x="1311" y="362.5"><tspan x="1311" dy="-4.15">Oddělení</tspan><tspan x="1311" dy="8.3">správy bank</tspan></text></g>
<g id="c21a-6"><rect class="w" x="1290.5" y="396.5" width="41" height="54"/><text x="1311" y="423.5"><tspan x="1311" dy="-4.15">Oddělení</tspan><tspan x="1311" dy="8.3">správy majetku</tspan></text></g>
<g id="c21a-7"><rect class="w" x="1290.5" y="456.5" width="41" height="54"/><text x="1311" y="483.5"><tspan x="1311" dy="-4.15">Oddělení účetní</tspan><tspan x="1311" dy="8.3">agendy</tspan></text></g>
<g id="c21a-8"><rect class="w" x="1290.5" y="517.5" width="41" height="54"/><text x="1311" y="544.5">Odbor daní</text></g>
<g id="c21a-9"><rect class="w" x="1290.5" y="577.5" width="41" height="63"/><text x="1311" y="609"><tspan x="1311" dy="-12.45">Odbor</tspan><tspan x="1311" dy="8.3">regulatorního</tspan><tspan x="1311" dy="8.3">reportu a</tspan><tspan x="1311" dy="8.3">finanční analýzy</tspan></text></g>
<g id="c21a-10"><rect class="w" x="1290.5" y="647.5" width="41" height="53"/><text x="1311" y="674">Odbor plateb</text></g>
<g id="c21a-11"><rect class="w" x="1290.5" y="707.5" width="41" height="57"/><text x="1311" y="736"><tspan x="1311" dy="-4.15">Oddělení</tspan><tspan x="1311" dy="8.3">přepážek</tspan></text></g>
<g id="c21a-12"><rect class="w" x="1290.5" y="770.5" width="41" height="57"/><text x="1311" y="799">Odd. exekucí</text></g>
<g id="c21a-13"><rect class="w" x="1290.5" y="833.5" width="41" height="51"/><text x="1311" y="859"><tspan x="1311" dy="-4.15">Oddělení inkasa</tspan><tspan x="1311" dy="8.3">PJKO</tspan></text></g>
<g id="c21b-1"><rect class="w" x="1354.5" y="82.5" width="47" height="53"/><text x="1378" y="109"><tspan x="1378" dy="-4.15">Odbor správy</tspan><tspan x="1378" dy="8.3">pohledávek</tspan></text></g>
<g id="c21b-2"><rect class="w" x="1354.5" y="143.5" width="47" height="53"/><text x="1378" y="170">Sekretariát</text></g>
<g id="c21b-3"><rect class="w" x="1354.5" y="203.5" width="47" height="64"/><text x="1378" y="235.5"><tspan x="1378" dy="-4.15">Oddělení</tspan><tspan x="1378" dy="8.3">upomínání</tspan></text></g>
<g id="c21b-4"><rect class="w" x="1354.5" y="274.5" width="47" height="55"/><text x="1378" y="302">Odd. vymáhání</text></g>
<g id="c21b-5"><rect class="w" x="1354.5" y="335.5" width="47" height="54"/><text x="1378" y="362.5">Odbor provizí</text></g>
<g id="c21b-6"><rect class="w" x="1354.5" y="396.5" width="47" height="54"/><text x="1378" y="423.5"><tspan x="1378" dy="-12.45">Odbor účetnictví a</tspan><tspan x="1378" dy="8.3">controllingu</tspan><tspan x="1378" dy="8.3">dceřiných</tspan><tspan x="1378" dy="8.3">společností</tspan></text></g>
<g id="c21b-7"><rect class="w" x="1354.5" y="456.5" width="47" height="54"/><text x="1378" y="483.5"><tspan x="1378" dy="-4.15">Odbor</tspan><tspan x="1378" dy="8.3">rozpočtování</tspan></text></g>
<g id="c21b-8"><rect class="w" x="1354.5" y="517.5" width="47" height="54"/><text x="1378" y="544.5">Odbor regresů</text></g>
<g id="c21b-11"><rect class="w" x="1354.5" y="707.5" width="47" height="57"/><text x="1378" y="736">Odd. vindikační</text></g>
<g id="c21b-12"><rect class="w" x="1354.5" y="770.5" width="47" height="57"/><text x="1378" y="799">Odd. inkasa</text></g>

<g id="c22-1"><rect class="w" x="1412.5" y="82.5" width="49" height="53"/><text x="1437" y="109">Sekretariát</text></g>
<g id="c22-2"><rect class="w" x="1412.5" y="143.5" width="49" height="53"/><text x="1437" y="170"><tspan x="1437" dy="-4.15">Odbor standard.</tspan><tspan x="1437" dy="8.3">poj. podnikatelů</tspan></text></g>
<g id="c22-3"><rect class="w" x="1412.5" y="203.5" width="49" height="64"/><text x="1437" y="235.5"><tspan x="1437" dy="-4.15">Odbor pojištění</tspan><tspan x="1437" dy="8.3">rizik</tspan></text></g>
<g id="c22-4"><rect class="w" x="1412.5" y="274.5" width="49" height="55"/><text x="1437" y="302"><tspan x="1437" dy="-4.15">Odbor cestovního</tspan><tspan x="1437" dy="8.3">pojištění</tspan></text></g>
<g id="c22-5"><rect class="w" x="1412.5" y="335.5" width="49" height="54"/><text x="1437" y="362.5"><tspan x="1437" dy="-4.15">Odbor risk</tspan><tspan x="1437" dy="8.3">managementu</tspan></text></g>

<g id="c23-1"><rect class="w" x="1475.5" y="82.5" width="46" height="53"/><text x="1498.5" y="109">Sekretariát</text></g>
<g id="c23-2"><rect class="w" x="1475.5" y="143.5" width="46" height="53"/><text x="1498.5" y="170"><tspan x="1498.5" dy="-4.15">Odbor havarijního</tspan><tspan x="1498.5" dy="8.3">pojištění</tspan></text></g>
<g id="c23-3"><rect class="w" x="1475.5" y="203.5" width="46" height="64"/><text x="1498.5" y="235.5"><tspan x="1498.5" dy="-4.15">Oddělení vývoje</tspan><tspan x="1498.5" dy="8.3">produktu</tspan></text></g>
<g id="c23-4"><rect class="w" x="1475.5" y="274.5" width="46" height="55"/><text x="1498.5" y="302"><tspan x="1498.5" dy="-4.15">Oddělení</tspan><tspan x="1498.5" dy="8.3">metodiky</tspan></text></g>
<g id="c23-5"><rect class="w" x="1475.5" y="335.5" width="46" height="54"/><text x="1498.5" y="362.5"><tspan x="1498.5" dy="-8.3">Odbor</tspan><tspan x="1498.5" dy="8.3">skupinového</tspan><tspan x="1498.5" dy="8.3">pojištění</tspan></text></g>
<g id="c23-6"><rect class="w" x="1475.5" y="396.5" width="46" height="54"/><text x="1498.5" y="423.5"><tspan x="1498.5" dy="-8.3">Oddělení vývoje</tspan><tspan x="1498.5" dy="8.3">produktu a</tspan><tspan x="1498.5" dy="8.3">metodiky</tspan></text></g>
<g id="c23-7"><rect class="w" x="1475.5" y="456.5" width="46" height="54"/><text x="1498.5" y="483.5"><tspan x="1498.5" dy="-4.15">Oddělení</tspan><tspan x="1498.5" dy="8.3">underwritingu</tspan></text></g>
<g id="c23-8"><rect class="w" x="1475.5" y="517.5" width="46" height="54"/><text x="1498.5" y="544.5"><tspan x="1498.5" dy="-4.15">Oddělení správy</tspan><tspan x="1498.5" dy="8.3">flotil a souborů</tspan></text></g>
<g id="c23-9"><rect class="w" x="1475.5" y="577.5" width="46" height="63"/><text x="1498.5" y="609"><tspan x="1498.5" dy="-8.3">Oddělení správy</tspan><tspan x="1498.5" dy="8.3">leasingových</tspan><tspan x="1498.5" dy="8.3">společností</tspan></text></g>
<g id="c23-10"><rect class="w" x="1475.5" y="647.5" width="46" height="53"/><text x="1498.5" y="674"><tspan x="1498.5" dy="-8.3">Odbor podpory</tspan><tspan x="1498.5" dy="8.3">produktu a</tspan><tspan x="1498.5" dy="8.3">obchodu</tspan></text></g>

<g id="c24-1"><rect class="w" x="1535.5" y="82.5" width="44" height="53"/><text x="1557.5" y="109">Sekretariát</text></g>
<g id="c24-2"><rect class="w" x="1535.5" y="143.5" width="44" height="53"/><text x="1557.5" y="170"><tspan x="1557.5" dy="-4.15">Odbor vývoje</tspan><tspan x="1557.5" dy="8.3">produktů</tspan></text></g>
<g id="c24-3"><rect class="w" x="1535.5" y="203.5" width="44" height="64"/><text x="1557.5" y="235.5"><tspan x="1557.5" dy="-8.3">Odbor metodiky</tspan><tspan x="1557.5" dy="8.3">a procesní</tspan><tspan x="1557.5" dy="8.3">podpory</tspan></text></g>
<g id="c24-4"><rect class="w" x="1535.5" y="274.5" width="44" height="55"/><text x="1557.5" y="302"><tspan x="1557.5" dy="-8.3">Odbor</tspan><tspan x="1557.5" dy="8.3">zdravotního</tspan><tspan x="1557.5" dy="8.3">pojištění</tspan></text></g>

<g id="c25-1"><rect class="w" x="1590.5" y="82.5" width="47" height="53"/><text x="1614" y="109">Sekretariát</text></g>
<g id="c25-2"><rect class="w" x="1590.5" y="143.5" width="47" height="53"/><text x="1614" y="170"><tspan x="1614" dy="-4.15">Odbor neživotního</tspan><tspan x="1614" dy="8.3">pojištění</tspan></text></g>
<g id="c25-3"><rect class="w" x="1590.5" y="203.5" width="47" height="64"/><text x="1614" y="235.5"><tspan x="1614" dy="-4.15">Odbor životního</tspan><tspan x="1614" dy="8.3">pojištění</tspan></text></g>
<g id="c25-4"><rect class="w" x="1590.5" y="274.5" width="47" height="55"/><text x="1614" y="302"><tspan x="1614" dy="-4.15">Oddělení</tspan><tspan x="1614" dy="8.3">výkaznictví</tspan></text></g>
<g id="c25-5"><rect class="w" x="1590.5" y="335.5" width="47" height="54"/><text x="1614" y="362.5"><tspan x="1614" dy="-4.15">Oddělení aktiv a</tspan><tspan x="1614" dy="8.3">dat</tspan></text></g>

<g id="c26-1"><rect class="w" x="1647.5" y="82.5" width="43" height="53"/><text x="1669" y="109">Sekretariát</text></g>
<g id="c26-2"><rect class="w" x="1647.5" y="143.5" width="43" height="53"/><text x="1669" y="170"><tspan x="1669" dy="-4.15">Odbor finančních</tspan><tspan x="1669" dy="8.3">rizik</tspan></text></g>
<g id="c26-3"><rect class="w" x="1647.5" y="203.5" width="43" height="64"/><text x="1669" y="235.5"><tspan x="1669" dy="-8.3">Odbor</tspan><tspan x="1669" dy="8.3">nefinančních</tspan><tspan x="1669" dy="8.3">rizik</tspan></text></g>
<g id="c26-4"><rect class="w" x="1647.5" y="274.5" width="43" height="55"/><text x="1669" y="302"><tspan x="1669" dy="-4.15">Odbor pojistných</tspan><tspan x="1669" dy="8.3">rizik</tspan></text></g>

<g id="c27-1"><rect class="w" x="1701.5" y="82.5" width="42" height="53"/><text x="1722.5" y="109">Sekretariát</text></g>
<g id="c27-2"><rect class="w" x="1701.5" y="143.5" width="42" height="53"/><text x="1722.5" y="170"><tspan x="1722.5" dy="-8.3">Odbor</tspan><tspan x="1722.5" dy="8.3">vyšetřování a</tspan><tspan x="1722.5" dy="8.3">prevence</tspan></text></g>
<g id="c27-3"><rect class="w" x="1701.5" y="203.5" width="42" height="64"/><text x="1722.5" y="235.5">Oddělení analýzy</text></g>
<g id="c27-4"><rect class="w" x="1701.5" y="274.5" width="42" height="55"/><text x="1722.5" y="302"><tspan x="1722.5" dy="-4.15">Oddělení</tspan><tspan x="1722.5" dy="8.3">prevence</tspan></text></g>
<g id="c27-5"><rect class="w" x="1701.5" y="335.5" width="42" height="54"/><text x="1722.5" y="362.5"><tspan x="1722.5" dy="-4.15">Oddělení</tspan><tspan x="1722.5" dy="8.3">vyšetřování</tspan></text></g>
<g id="c27-6"><rect class="w" x="1701.5" y="396.5" width="42" height="54"/><text x="1722.5" y="423.5"><tspan x="1722.5" dy="-4.15">Odbor</tspan><tspan x="1722.5" dy="8.3">bezpečnosti ICT</tspan></text></g>
<g id="c27-7"><rect class="w" x="1701.5" y="456.5" width="42" height="54"/><text x="1722.5" y="483.5"><tspan x="1722.5" dy="-4.15">Referát fyzické</tspan><tspan x="1722.5" dy="8.3">bezpečnosti</tspan></text></g>
<g id="c27-8"><rect class="w" x="1701.5" y="517.5" width="42" height="54"/><text x="1722.5" y="544.5"><tspan x="1722.5" dy="-8.3">Odbor Data</tspan><tspan x="1722.5" dy="8.3">protection officer</tspan><tspan x="1722.5" dy="8.3">(DPO)</tspan></text></g>
<g id="c27-9"><rect class="w" x="1701.5" y="577.5" width="42" height="63"/><text x="1722.5" y="609">Skupina BCM</text></g>

<g id="c28-1"><rect class="w" x="1754.5" y="82.5" width="42" height="53"/><text x="1775.5" y="109">Sekretariát</text></g>
<g id="c28-2"><rect class="w" x="1754.5" y="143.5" width="42" height="53"/><text x="1775.5" y="170"><tspan x="1775.5" dy="-4.15">Odbor aktuárské</tspan><tspan x="1775.5" dy="8.3">funkce a validací</tspan></text></g>
<g id="c28-3"><rect class="w" x="1754.5" y="203.5" width="42" height="64"/><text x="1775.5" y="235.5"><tspan x="1775.5" dy="-4.15">Odbor analýz a</tspan><tspan x="1775.5" dy="8.3">strategie investic</tspan></text></g>
<g id="c28-4"><rect class="w" x="1754.5" y="274.5" width="42" height="55"/><text x="1775.5" y="302"><tspan x="1775.5" dy="-4.15">Odbor analýz</tspan><tspan x="1775.5" dy="8.3">aktiv a pasiv</tspan></text></g>

<g id="c29-1"><rect class="w" x="1807.5" y="82.5" width="48" height="53"/><text x="1831.5" y="109">Sekretariát</text></g>
<g id="c29-2"><rect class="w" x="1807.5" y="143.5" width="48" height="53"/><text x="1831.5" y="170"><tspan x="1831.5" dy="-8.3">Odbor</tspan><tspan x="1831.5" dy="8.3">řízení rizika a</tspan><tspan x="1831.5" dy="8.3">produkt. portfolia</tspan></text></g>
<g id="c29-3"><rect class="w" x="1807.5" y="203.5" width="48" height="64"/><text x="1831.5" y="235.5"><tspan x="1831.5" dy="-4.15">Odbor metodiky</tspan><tspan x="1831.5" dy="8.3">produktů a procesů</tspan></text></g>
<g id="c29-4"><rect class="w" x="1807.5" y="274.5" width="48" height="55"/><text x="1831.5" y="302"><tspan x="1831.5" dy="-8.3">Odbor vývoje</tspan><tspan x="1831.5" dy="8.3">externích produkt.</tspan><tspan x="1831.5" dy="8.3">aplikací</tspan></text></g>

<g id="c30-1"><rect class="w" x="1865.5" y="82.5" width="47" height="53"/><text x="1889" y="109">Sekretariát</text></g>
<g id="c30-2"><rect class="w" x="1865.5" y="143.5" width="47" height="53"/><text x="1889" y="170">Region Praha</text></g>
<g id="c30-3"><rect class="w" x="1865.5" y="203.5" width="47" height="64"/><text x="1889" y="235.5"><tspan x="1889" dy="-8.3">Region</tspan><tspan x="1889" dy="8.3">severozápadní</tspan><tspan x="1889" dy="8.3">Čechy</tspan></text></g>
<g id="c30-4"><rect class="w" x="1865.5" y="274.5" width="47" height="55"/><text x="1889" y="302"><tspan x="1889" dy="-4.15">Region jihozápadní</tspan><tspan x="1889" dy="8.3">Čechy</tspan></text></g>
<g id="c30-5"><rect class="w" x="1865.5" y="335.5" width="47" height="54"/><text x="1889" y="362.5"><tspan x="1889" dy="-4.15">Region východní</tspan><tspan x="1889" dy="8.3">Čechy</tspan></text></g>
<g id="c30-6"><rect class="w" x="1865.5" y="396.5" width="47" height="54"/><text x="1889" y="423.5"><tspan x="1889" dy="-4.15">Region jižní</tspan><tspan x="1889" dy="8.3">Morava</tspan></text></g>
<g id="c30-7"><rect class="w" x="1865.5" y="456.5" width="47" height="54"/><text x="1889" y="483.5"><tspan x="1889" dy="-4.15">Region severní</tspan><tspan x="1889" dy="8.3">Morava</tspan></text></g>

<g id="c31-1"><rect class="w" x="1923.5" y="82.5" width="44" height="53"/><text x="1945.5" y="109">Sekretariát</text></g>
<g id="c31-2"><rect class="w" x="1923.5" y="143.5" width="44" height="53"/><text x="1945.5" y="170"><tspan x="1945.5" dy="-12.45">Odbor</tspan><tspan x="1945.5" dy="8.3">významných</tspan><tspan x="1945.5" dy="8.3">obchodních</tspan><tspan x="1945.5" dy="8.3">partnerů</tspan></text></g>
<g id="c31-3"><rect class="w" x="1923.5" y="203.5" width="44" height="64"/><text x="1945.5" y="235.5"><tspan x="1945.5" dy="-12.45">Odbor</tspan><tspan x="1945.5" dy="8.3">regionálních</tspan><tspan x="1945.5" dy="8.3">obchodních</tspan><tspan x="1945.5" dy="8.3">partnerů</tspan></text></g>

<g id="c32-1"><rect class="w" x="1978.5" y="82.5" width="49" height="53"/><text x="2003" y="109">Sekretariát</text></g>
<g id="c32-2"><rect class="w" x="1978.5" y="143.5" width="49" height="53"/><text x="2003" y="170"><tspan x="2003" dy="-8.3">Odbor rozvoje</tspan><tspan x="2003" dy="8.3">obchodu PJKO a</tspan><tspan x="2003" dy="8.3">bankopoj.</tspan></text></g>
<g id="c32-3"><rect class="w" x="1978.5" y="203.5" width="49" height="64"/><text x="2003" y="235.5"><tspan x="2003" dy="-8.3">Odbor rozvoje</tspan><tspan x="2003" dy="8.3">neživotního</tspan><tspan x="2003" dy="8.3">bankopoj.</tspan></text></g>
<g id="c32-4"><rect class="w" x="1978.5" y="274.5" width="49" height="55"/><text x="2003" y="302"><tspan x="2003" dy="-8.3">Odbor ob.</tspan><tspan x="2003" dy="8.3">reportingu PJKO a</tspan><tspan x="2003" dy="8.3">bankopoj.</tspan></text></g>
<g id="c32-5"><rect class="w" x="1978.5" y="335.5" width="49" height="54"/><text x="2003" y="362.5"><tspan x="2003" dy="-4.15">Odbor podp. ob. sítě</tspan><tspan x="2003" dy="8.3">PJKO a bankopoj.</tspan></text></g>
<g id="c32-6"><rect class="w" x="1978.5" y="396.5" width="49" height="54"/><text x="2003" y="423.5"><tspan x="2003" dy="-8.3">Odb. ob. analýz a</tspan><tspan x="2003" dy="8.3">fin. kom. PJKO a</tspan><tspan x="2003" dy="8.3">bank.</tspan></text></g>

<g id="c33-1"><rect class="w" x="2037.5" y="82.5" width="60" height="53"/><text x="2062" y="109">Sekretariát</text></g>
<g id="c33-2"><rect class="w" x="2037.5" y="143.5" width="60" height="53"/><text x="2062" y="170">Odbor retence</text></g>
<g id="c33-3"><rect class="w" x="2037.5" y="203.5" width="60" height="64"/><text x="2062" y="235.5"><tspan x="2062" dy="-12.45">Odbor</tspan><tspan x="2062" dy="8.3">manažerské</tspan><tspan x="2062" dy="8.3">podpory prodeje</tspan><tspan x="2062" dy="8.3">pro ČR</tspan></text></g>
<g id="c33-4"><rect class="w" x="2037.5" y="274.5" width="60" height="55"/><text x="2062" y="302"><tspan x="2062" dy="-4.15">Oddělení MPP ČR</tspan><tspan x="2062" dy="8.3">Brno</tspan></text></g>
<g id="c33-5"><rect class="w" x="2037.5" y="335.5" width="60" height="54"/><text x="2062" y="362.5"><tspan x="2062" dy="-4.15">Oddělení MPP ČR</tspan><tspan x="2062" dy="8.3">Ostrava</tspan></text></g>
<g id="c33-6"><rect class="w" x="2037.5" y="396.5" width="60" height="54"/><text x="2062" y="423.5"><tspan x="2062" dy="-12.45">Odbor</tspan><tspan x="2062" dy="8.3">manažerské</tspan><tspan x="2062" dy="8.3">podp. ext. sítě</tspan><tspan x="2062" dy="8.3">PJKO</tspan></text></g>
<g id="c33-7"><rect class="w" x="2037.5" y="456.5" width="60" height="54"/><text x="2062" y="483.5"><tspan x="2062" dy="-8.3">Odbor</tspan><tspan x="2062" dy="8.3">telefonního</tspan><tspan x="2062" dy="8.3">prodeje</tspan></text></g>
<g id="c33-8"><rect class="w" x="2037.5" y="517.5" width="60" height="54"/><text x="2062" y="544.5"><tspan x="2062" dy="-8.3">Oddělení</tspan><tspan x="2062" dy="8.3">telefonního</tspan><tspan x="2062" dy="8.3">prodeje Brno</tspan></text></g>
<g id="c33-9"><rect class="w" x="2037.5" y="577.5" width="60" height="63"/><text x="2062" y="609"><tspan x="2062" dy="-8.3">Oddělení</tspan><tspan x="2062" dy="8.3">telefonního</tspan><tspan x="2062" dy="8.3">prodeje Ostrava</tspan></text></g>
</svg>
